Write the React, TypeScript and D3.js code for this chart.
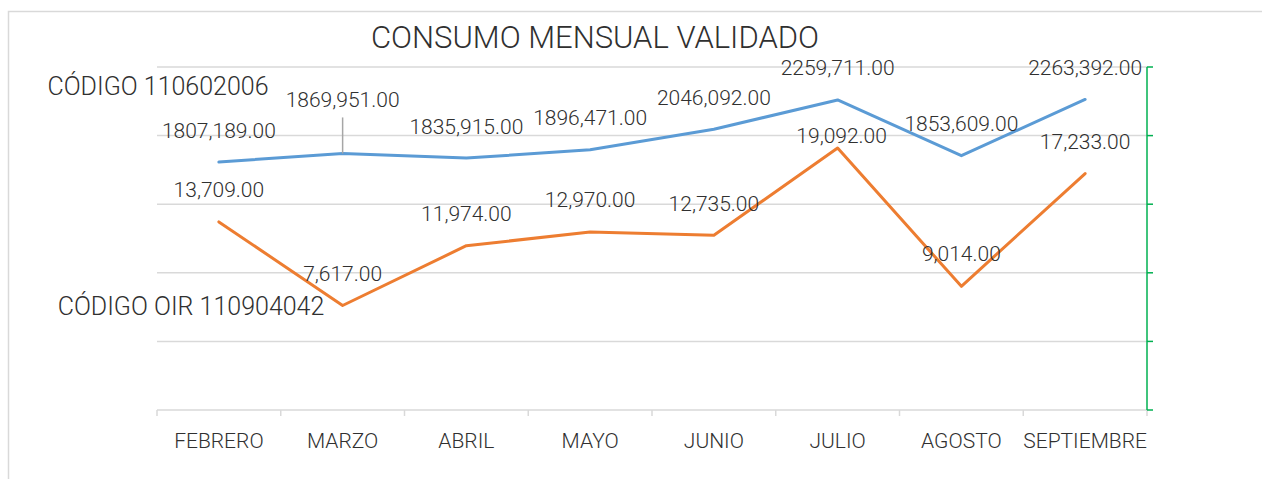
import React from "react";
import * as d3 from "d3";

const months = ["FEBRERO", "MARZO", "ABRIL", "MAYO", "JUNIO", "JULIO", "AGOSTO", "SEPTIEMBRE"];
const codigo110602006 = [1807189, 1869951, 1835915, 1896471, 2046092, 2259711, 1853609, 2263392];
const codigoOir110904042 = [13709, 7617, 11974, 12970, 12735, 19092, 9014, 17233];
const leftTicks = [0, 500000, 1000000, 1500000, 2000000, 2500000];
const rightTicks = [0, 5000, 10000, 15000, 20000, 25000];

// Excel moved a couple of labels by hand
const blueNudge = [[0, -31], [0, -53], [0, -31], [0, -32], [0, -31], [0, -32], [0, -32], [0, -31]];
const orangeNudge = [[0, -32], [0, -31], [0, -32], [0, -32], [0, -31], [4, -12], [0, -32], [0, -32]];

const W = 1262;
const H = 479;
const margin = { top: 67, right: 115, bottom: 69, left: 157 };
const font = "Roboto, 'Open Sans', sans-serif";
const textColor = "#303030";

const fmt = (v: number) => d3.format(",.2f")(v);

const App = () => {
    const x = d3
        .scaleBand()
        .domain(months)
        .range([margin.left, W - margin.right]);

    const yLeft = d3
        .scaleLinear()
        .domain([0, 2500000])
        .range([H - margin.bottom, margin.top]);

    const yRight = d3
        .scaleLinear()
        .domain([0, 25000])
        .range([H - margin.bottom, margin.top]);

    const cx = (m: string) => (x(m) as number) + x.bandwidth() / 2;

    const blueLine = d3
        .line<number>()
        .x((d, i) => cx(months[i]))
        .y(d => yLeft(d));

    const orangeLine = d3
        .line<number>()
        .x((d, i) => cx(months[i]))
        .y(d => yRight(d));

    const x0 = margin.left;
    const x1 = W - margin.right;
    const yBase = yLeft(0);
    const bounds = [...months.map(m => x(m) as number), x1];

    return (
        <svg
            width={W}
            height={H}
            style={{ position: "absolute", left: 0, top: 0, background: "#fff" }}
            fontFamily={font}
            fontWeight={300}
        >
            <rect x={8.5} y={11.5} width={W + 10} height={H + 10} fill="#fff" stroke="#d9d9d9" strokeWidth={1.5} />

            <text x={595} y={37} textAnchor="middle" dominantBaseline="central" fontSize={31} fill={textColor}>
                CONSUMO MENSUAL VALIDADO
            </text>

            {/* gridlines */}
            {leftTicks.slice(1).map(t => (
                <line key={t} x1={x0} x2={x1} y1={yLeft(t)} y2={yLeft(t)} stroke="#d9d9d9" strokeWidth={1.5} />
            ))}

            {/* category axis */}
            <line x1={x0} x2={x1} y1={yBase} y2={yBase} stroke="#d9d9d9" strokeWidth={1.5} />
            {bounds.map((b, i) => (
                <line key={i} x1={b} x2={b} y1={yBase} y2={yBase + 6} stroke="#d9d9d9" strokeWidth={1.5} />
            ))}
            {months.map(m => (
                <text key={m} x={cx(m)} y={yBase + 31} textAnchor="middle" dominantBaseline="central" fontSize={21} fill={textColor}>
                    {m}
                </text>
            ))}

            {/* secondary axis, labels hidden */}
            <line x1={x1} x2={x1} y1={yRight(25000)} y2={yRight(0)} stroke="#00b050" strokeWidth={1.5} />
            {rightTicks.map(t => (
                <line key={t} x1={x1} x2={x1 + 6} y1={yRight(t)} y2={yRight(t)} stroke="#00b050" strokeWidth={1.5} />
            ))}

            <path d={blueLine(codigo110602006) as string} fill="none" stroke="#5b9bd5" strokeWidth={3} strokeLinejoin="round" strokeLinecap="round" />
            <path d={orangeLine(codigoOir110904042) as string} fill="none" stroke="#ed7d31" strokeWidth={3} strokeLinejoin="round" strokeLinecap="round" />

            {/* leader line for MARZO */}
            <line
                x1={cx(months[1])}
                x2={cx(months[1])}
                y1={yLeft(codigo110602006[1]) + blueNudge[1][1] + 17}
                y2={yLeft(codigo110602006[1])}
                stroke="#a6a6a6"
                strokeWidth={1.5}
            />

            {codigo110602006.map((v, i) => (
                <text
                    key={"b" + i}
                    x={cx(months[i]) + blueNudge[i][0]}
                    y={yLeft(v) + blueNudge[i][1]}
                    textAnchor="middle"
                    dominantBaseline="central"
                    fontSize={21}
                    fill={textColor}
                >
                    {fmt(v).replace(/^(\d),/, "$1")}
                </text>
            ))}
            {codigoOir110904042.map((v, i) => (
                <text
                    key={"o" + i}
                    x={cx(months[i]) + orangeNudge[i][0]}
                    y={yRight(v) + orangeNudge[i][1]}
                    textAnchor="middle"
                    dominantBaseline="central"
                    fontSize={21}
                    fill={textColor}
                >
                    {fmt(v)}
                </text>
            ))}

            {/* series names */}
            <text x={158} y={86} textAnchor="middle" dominantBaseline="central" fontSize={25} fill={textColor}>
                CÓDIGO 110602006
            </text>
            <text x={191} y={306} textAnchor="middle" dominantBaseline="central" fontSize={25} fill={textColor}>
                CÓDIGO OIR 110904042
            </text>
        </svg>
    );
};

export default App;
